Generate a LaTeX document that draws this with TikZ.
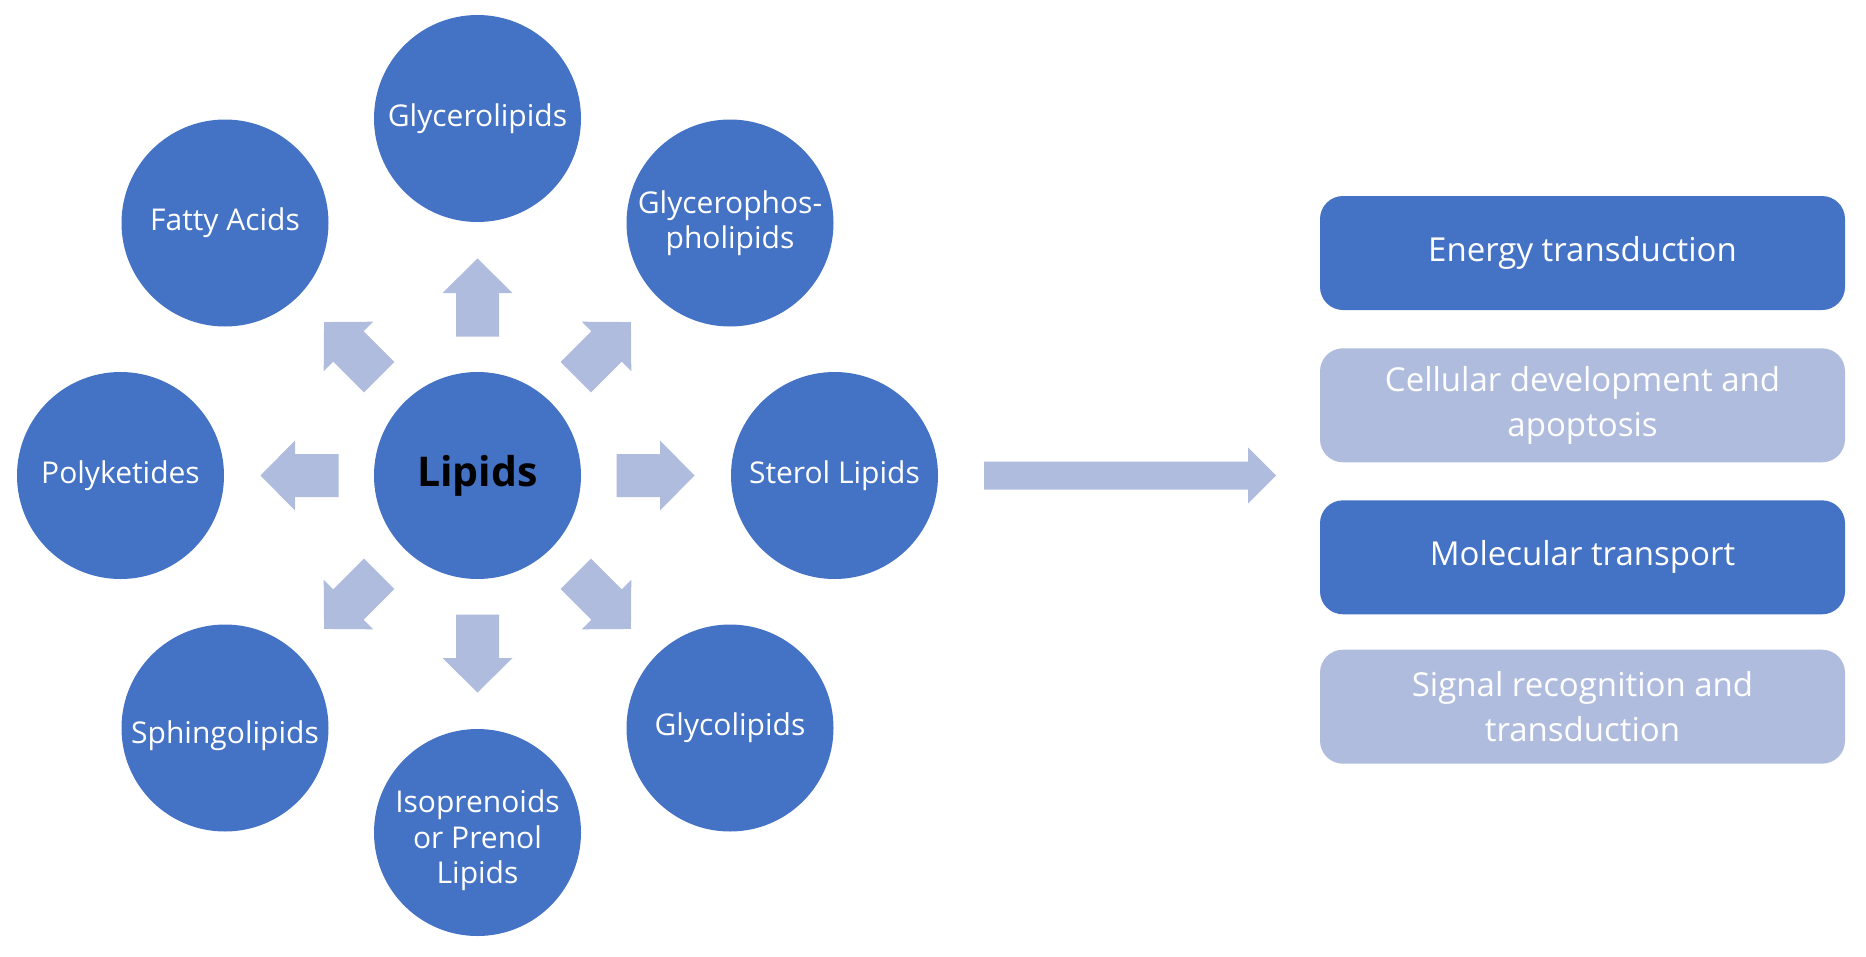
\documentclass[tikz,border=0pt]{standalone}
\usepackage{fontspec}
\setmainfont{Open Sans}
\definecolor{dblue}{HTML}{4472C4}
\definecolor{lblue}{HTML}{AFBCDE}
\tikzset{
  lipcirc/.style={circle, fill=dblue, minimum size=207pt, inner sep=0pt, text=white, align=center, font=\fontsize{30}{35.5}\selectfont},
  circtext/.style={text=white, align=center, inner sep=0pt, font=\fontsize{30}{35.5}\selectfont},
  funcbox/.style={rounded corners=23pt, minimum width=525pt, minimum height=114pt, inner sep=0pt, text=white, align=center, font=\fontsize{33}{45}\selectfont},
  blockarrow/.style={fill=lblue}
}
\begin{document}
\begin{tikzpicture}[x=1pt,y=-1pt]
\useasboundingbox (0,0) rectangle (1866,956);
% circles
\node[lipcirc, font=\fontsize{41}{48}\selectfont\bfseries, text=black] (lip) at (477.5,475.5) {Lipids};
\node[lipcirc] (glycero) at (477.5,118.5) {Glycerolipids};
\node[lipcirc] (fatty) at (225,223) {Fatty Acids};
\node[lipcirc] (gphos) at (730,223) {Glycerophos-\\pholipids};
\node[lipcirc] (poly) at (120.5,475.5) {Polyketides};
\node[lipcirc] (sterol) at (834.5,475.5) {Sterol Lipids};
\node[lipcirc] (sphingo) at (225,728) {};
\node[circtext] at ([yshift=-8pt]sphingo.center) {Sphingolipids};
\node[lipcirc] (iso) at (477.5,832.5) {};
\node[circtext] at ([yshift=-8pt]iso.center) {Isoprenoids\\or Prenol\\Lipids};
\node[lipcirc] (glyco) at (730,728) {Glycolipids};
% block arrows around the centre
\foreach \a in {0,45,...,315}{
  \begin{scope}[shift={(lip.center)}, rotate=\a]
    \fill[blockarrow] (139,-21.5) -- (182.5,-21.5) -- (182.5,-35) -- (217,0) -- (182.5,35) -- (182.5,21.5) -- (139,21.5) -- cycle;
  \end{scope}
}
% function boxes
\node[funcbox, fill=dblue] (energy) at (1582.5,253) {Energy transduction};
\node[funcbox, fill=lblue] (cell) at (1582.5,405.3) {Cellular development and\\apoptosis};
\node[funcbox, fill=dblue] (trans) at (1582.5,557.3) {Molecular transport};
\node[funcbox, fill=lblue] (signal) at (1582.5,706.7) {Signal recognition and\\transduction};
% big arrow
\coordinate (bigstart) at ([xshift=46pt]sterol.east);
\fill[blockarrow] ([shift={(0,-14)}]bigstart) -- ++(264,0) -- ++(0,-14) -- ++(28,28) -- ++(-28,28) -- ++(0,-14) -- ++(-264,0) -- cycle;
\end{tikzpicture}
\end{document}
